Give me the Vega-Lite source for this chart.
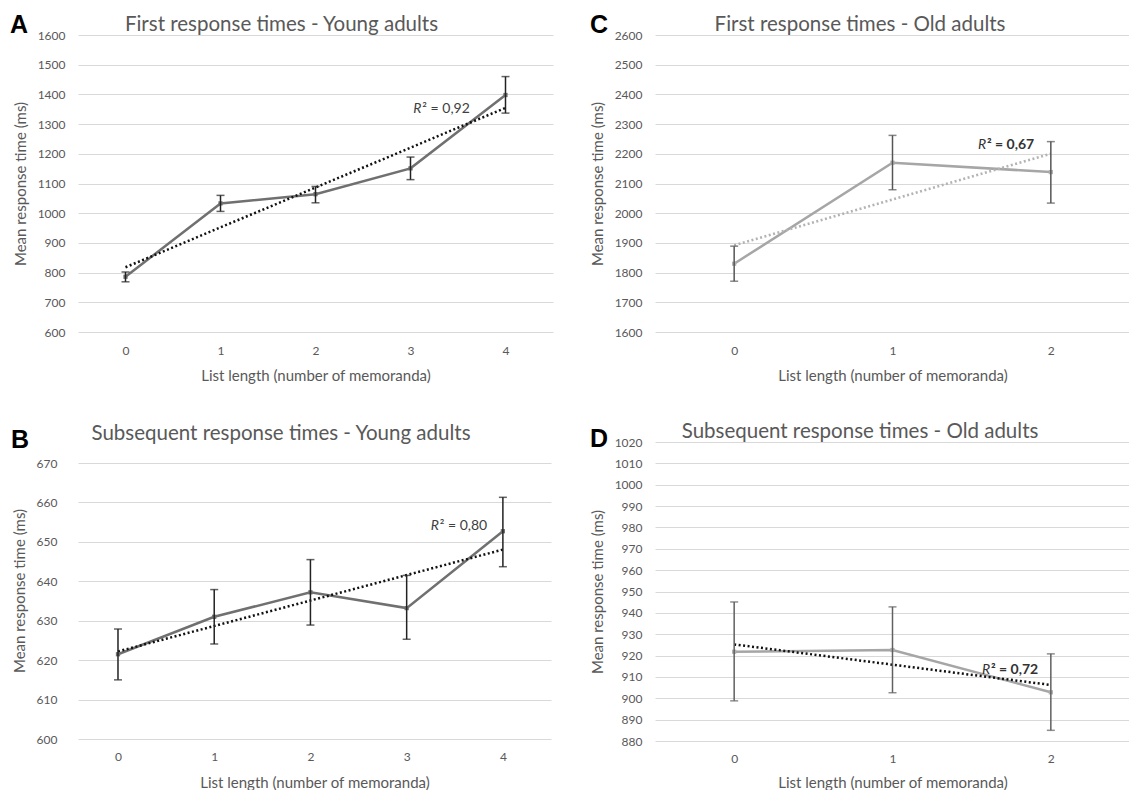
{
  "$schema": "https://vega.github.io/schema/vega-lite/v6.json",
  "background": "white",
  "padding": {"left": 9, "top": 13, "right": 0, "bottom": 0},
  "config": {
    "font": "Lato",
    "view": {"stroke": null},
    "axis": {
      "labelColor": "#595959",
      "titleColor": "#595959",
      "labelFontSize": 12,
      "titleFontSize": 15,
      "titleFontWeight": "normal",
      "domain": false,
      "ticks": false,
      "gridColor": "#d9d9d9",
      "gridWidth": 1.2
    },
    "title": {"fontSize": 20.5, "fontWeight": "normal", "color": "#595959", "anchor": "middle", "frame": "bounds"}
  },
  "datasets": {
    "A": [
      {"n": 0, "rt": 786, "lo": 769, "hi": 802},
      {"n": 1, "rt": 1033, "lo": 1006, "hi": 1060},
      {"n": 2, "rt": 1064, "lo": 1035, "hi": 1090},
      {"n": 3, "rt": 1151, "lo": 1113, "hi": 1189},
      {"n": 4, "rt": 1398, "lo": 1337, "hi": 1460}
    ],
    "B": [
      {"n": 0, "rt": 621.5, "lo": 615.0, "hi": 627.9},
      {"n": 1, "rt": 631.0, "lo": 624.1, "hi": 637.9},
      {"n": 2, "rt": 637.2, "lo": 628.9, "hi": 645.5},
      {"n": 3, "rt": 633.2, "lo": 625.3, "hi": 641.5},
      {"n": 4, "rt": 652.7, "lo": 643.7, "hi": 661.3}
    ],
    "C": [
      {"n": 0, "rt": 1830, "lo": 1771, "hi": 1889},
      {"n": 1, "rt": 2170, "lo": 2079, "hi": 2262},
      {"n": 2, "rt": 2138.5, "lo": 2034, "hi": 2241}
    ],
    "D": [
      {"n": 0, "rt": 921.8, "lo": 898.8, "hi": 945.1},
      {"n": 1, "rt": 922.6, "lo": 902.6, "hi": 942.8},
      {"n": 2, "rt": 902.8, "lo": 885.0, "hi": 920.8}
    ]
  },
  "vconcat": [
    {
      "hconcat": [
        {
          "width": 475,
          "height": 297,
          "title": {"text": "First response times - Young adults", "offset": -22},
          "data": {"name": "A"},
          "layer": [
            {"mark": {"type": "line", "color": "#707070", "strokeWidth": 2.5},
              "encoding": {
                "x": {"field": "n", "type": "quantitative", "scale": {"domain": [-0.5, 4.5], "nice": false, "zero": false}, "axis": {"values": [0, 1, 2, 3, 4], "format": "d", "grid": false, "title": "List length (number of memoranda)", "labelPadding": 13, "titlePadding": 12}},
                "y": {"field": "rt", "type": "quantitative", "scale": {"domain": [600, 1600], "nice": false, "zero": false}, "axis": {"values": [600, 700, 800, 900, 1000, 1100, 1200, 1300, 1400, 1500, 1600], "format": "d", "title": "Mean response time (ms)", "labelPadding": 13, "titlePadding": 9}}}},
            {"transform": [{"regression": "rt", "on": "n"}],
              "mark": {"type": "line", "color": "#111", "strokeWidth": 2.5, "strokeDash": [2, 2.5]},
              "encoding": {
                "x": {"field": "n", "type": "quantitative", "scale": {"domain": [-0.5, 4.5], "nice": false, "zero": false}, "axis": {"values": [0, 1, 2, 3, 4], "format": "d", "grid": false, "title": "List length (number of memoranda)", "labelPadding": 13, "titlePadding": 12}},
                "y": {"field": "rt", "type": "quantitative", "scale": {"domain": [600, 1600], "nice": false, "zero": false}, "axis": {"values": [600, 700, 800, 900, 1000, 1100, 1200, 1300, 1400, 1500, 1600], "format": "d", "title": "Mean response time (ms)", "labelPadding": 13, "titlePadding": 9}}}},
            {"mark": {"type": "square", "size": 18, "color": "#707070", "opacity": 1},
              "encoding": {
                "x": {"field": "n", "type": "quantitative", "scale": {"domain": [-0.5, 4.5], "nice": false, "zero": false}, "axis": {"values": [0, 1, 2, 3, 4], "format": "d", "grid": false, "title": "List length (number of memoranda)", "labelPadding": 13, "titlePadding": 12}},
                "y": {"field": "rt", "type": "quantitative", "scale": {"domain": [600, 1600], "nice": false, "zero": false}, "axis": {"values": [600, 700, 800, 900, 1000, 1100, 1200, 1300, 1400, 1500, 1600], "format": "d", "title": "Mean response time (ms)", "labelPadding": 13, "titlePadding": 9}}}},
            {"mark": {"type": "rule", "color": "#222", "strokeWidth": 1.5},
              "encoding": {
                "x": {"field": "n", "type": "quantitative", "scale": {"domain": [-0.5, 4.5], "nice": false, "zero": false}, "axis": {"values": [0, 1, 2, 3, 4], "format": "d", "grid": false, "title": "List length (number of memoranda)", "labelPadding": 13, "titlePadding": 12}},
                "y": {"field": "lo", "type": "quantitative", "scale": {"domain": [600, 1600], "nice": false, "zero": false}, "axis": {"values": [600, 700, 800, 900, 1000, 1100, 1200, 1300, 1400, 1500, 1600], "format": "d", "title": "Mean response time (ms)", "labelPadding": 13, "titlePadding": 9}},
                "y2": {"field": "hi"}}},
            {"mark": {"type": "tick", "orient": "horizontal", "size": 8, "thickness": 1.5, "color": "#222"},
              "encoding": {
                "x": {"field": "n", "type": "quantitative", "scale": {"domain": [-0.5, 4.5], "nice": false, "zero": false}, "axis": {"values": [0, 1, 2, 3, 4], "format": "d", "grid": false, "title": "List length (number of memoranda)", "labelPadding": 13, "titlePadding": 12}},
                "y": {"field": "lo", "type": "quantitative", "scale": {"domain": [600, 1600], "nice": false, "zero": false}, "axis": {"values": [600, 700, 800, 900, 1000, 1100, 1200, 1300, 1400, 1500, 1600], "format": "d", "title": "Mean response time (ms)", "labelPadding": 13, "titlePadding": 9}}}},
            {"mark": {"type": "tick", "orient": "horizontal", "size": 8, "thickness": 1.5, "color": "#222"},
              "encoding": {
                "x": {"field": "n", "type": "quantitative", "scale": {"domain": [-0.5, 4.5], "nice": false, "zero": false}, "axis": {"values": [0, 1, 2, 3, 4], "format": "d", "grid": false, "title": "List length (number of memoranda)", "labelPadding": 13, "titlePadding": 12}},
                "y": {"field": "hi", "type": "quantitative", "scale": {"domain": [600, 1600], "nice": false, "zero": false}, "axis": {"values": [600, 700, 800, 900, 1000, 1100, 1200, 1300, 1400, 1500, 1600], "format": "d", "title": "Mean response time (ms)", "labelPadding": 13, "titlePadding": 9}}}},
            {"data": {"values": [{"t": "R"}]},
              "mark": {"type": "text", "fontStyle": "italic", "fontSize": 14, "align": "left", "baseline": "alphabetic", "color": "#404040"},
              "encoding": {
                "x": {"datum": 3.03, "type": "quantitative", "scale": {"domain": [-0.5, 4.5], "nice": false, "zero": false}, "axis": {"values": [0, 1, 2, 3, 4], "format": "d", "grid": false, "title": "List length (number of memoranda)", "labelPadding": 13, "titlePadding": 12}},
                "y": {"datum": 1337, "type": "quantitative", "scale": {"domain": [600, 1600], "nice": false, "zero": false}, "axis": {"values": [600, 700, 800, 900, 1000, 1100, 1200, 1300, 1400, 1500, 1600], "format": "d", "title": "Mean response time (ms)", "labelPadding": 13, "titlePadding": 9}},
                "text": {"field": "t"}}},
            {"data": {"values": [{"t": "² = 0,92"}]},
              "mark": {"type": "text", "fontSize": 14, "align": "left", "baseline": "alphabetic", "dx": 9, "color": "#404040"},
              "encoding": {
                "x": {"datum": 3.03, "type": "quantitative", "scale": {"domain": [-0.5, 4.5], "nice": false, "zero": false}, "axis": {"values": [0, 1, 2, 3, 4], "format": "d", "grid": false, "title": "List length (number of memoranda)", "labelPadding": 13, "titlePadding": 12}},
                "y": {"datum": 1337, "type": "quantitative", "scale": {"domain": [600, 1600], "nice": false, "zero": false}, "axis": {"values": [600, 700, 800, 900, 1000, 1100, 1200, 1300, 1400, 1500, 1600], "format": "d", "title": "Mean response time (ms)", "labelPadding": 13, "titlePadding": 9}},
                "text": {"field": "t"}}},
            {"data": {"values": [{"t": "A"}]},
              "mark": {"type": "text", "font": "Liberation Sans", "fontWeight": "bold", "fontSize": 25, "align": "left", "baseline": "alphabetic", "color": "#000"},
              "encoding": {
                "x": {"datum": -1.216, "type": "quantitative", "scale": {"domain": [-0.5, 4.5], "nice": false, "zero": false}, "axis": {"values": [0, 1, 2, 3, 4], "format": "d", "grid": false, "title": "List length (number of memoranda)", "labelPadding": 13, "titlePadding": 12}},
                "y": {"datum": 1606.7, "type": "quantitative", "scale": {"domain": [600, 1600], "nice": false, "zero": false}, "axis": {"values": [600, 700, 800, 900, 1000, 1100, 1200, 1300, 1400, 1500, 1600], "format": "d", "title": "Mean response time (ms)", "labelPadding": 13, "titlePadding": 9}},
                "text": {"field": "t"}}}
          ]
        },
        {
          "width": 475,
          "height": 297,
          "title": {"text": "First response times - Old adults", "offset": -22},
          "data": {"name": "C"},
          "layer": [
            {"mark": {"type": "line", "color": "#a6a6a6", "strokeWidth": 2.5},
              "encoding": {
                "x": {"field": "n", "type": "quantitative", "scale": {"domain": [-0.5, 2.5], "nice": false, "zero": false}, "axis": {"values": [0, 1, 2], "format": "d", "grid": false, "title": "List length (number of memoranda)", "labelPadding": 13, "titlePadding": 12}},
                "y": {"field": "rt", "type": "quantitative", "scale": {"domain": [1600, 2600], "nice": false, "zero": false}, "axis": {"values": [1600, 1700, 1800, 1900, 2000, 2100, 2200, 2300, 2400, 2500, 2600], "format": "d", "title": "Mean response time (ms)", "labelPadding": 13, "titlePadding": 9}}}},
            {"transform": [{"regression": "rt", "on": "n"}],
              "mark": {"type": "line", "color": "#b3b3b3", "strokeWidth": 2.5, "strokeDash": [2, 2.5]},
              "encoding": {
                "x": {"field": "n", "type": "quantitative", "scale": {"domain": [-0.5, 2.5], "nice": false, "zero": false}, "axis": {"values": [0, 1, 2], "format": "d", "grid": false, "title": "List length (number of memoranda)", "labelPadding": 13, "titlePadding": 12}},
                "y": {"field": "rt", "type": "quantitative", "scale": {"domain": [1600, 2600], "nice": false, "zero": false}, "axis": {"values": [1600, 1700, 1800, 1900, 2000, 2100, 2200, 2300, 2400, 2500, 2600], "format": "d", "title": "Mean response time (ms)", "labelPadding": 13, "titlePadding": 9}}}},
            {"mark": {"type": "square", "size": 18, "color": "#b0b0b0", "opacity": 1},
              "encoding": {
                "x": {"field": "n", "type": "quantitative", "scale": {"domain": [-0.5, 2.5], "nice": false, "zero": false}, "axis": {"values": [0, 1, 2], "format": "d", "grid": false, "title": "List length (number of memoranda)", "labelPadding": 13, "titlePadding": 12}},
                "y": {"field": "rt", "type": "quantitative", "scale": {"domain": [1600, 2600], "nice": false, "zero": false}, "axis": {"values": [1600, 1700, 1800, 1900, 2000, 2100, 2200, 2300, 2400, 2500, 2600], "format": "d", "title": "Mean response time (ms)", "labelPadding": 13, "titlePadding": 9}}}},
            {"mark": {"type": "rule", "color": "#555", "strokeWidth": 1.5},
              "encoding": {
                "x": {"field": "n", "type": "quantitative", "scale": {"domain": [-0.5, 2.5], "nice": false, "zero": false}, "axis": {"values": [0, 1, 2], "format": "d", "grid": false, "title": "List length (number of memoranda)", "labelPadding": 13, "titlePadding": 12}},
                "y": {"field": "lo", "type": "quantitative", "scale": {"domain": [1600, 2600], "nice": false, "zero": false}, "axis": {"values": [1600, 1700, 1800, 1900, 2000, 2100, 2200, 2300, 2400, 2500, 2600], "format": "d", "title": "Mean response time (ms)", "labelPadding": 13, "titlePadding": 9}},
                "y2": {"field": "hi"}}},
            {"mark": {"type": "tick", "orient": "horizontal", "size": 8, "thickness": 1.5, "color": "#555"},
              "encoding": {
                "x": {"field": "n", "type": "quantitative", "scale": {"domain": [-0.5, 2.5], "nice": false, "zero": false}, "axis": {"values": [0, 1, 2], "format": "d", "grid": false, "title": "List length (number of memoranda)", "labelPadding": 13, "titlePadding": 12}},
                "y": {"field": "lo", "type": "quantitative", "scale": {"domain": [1600, 2600], "nice": false, "zero": false}, "axis": {"values": [1600, 1700, 1800, 1900, 2000, 2100, 2200, 2300, 2400, 2500, 2600], "format": "d", "title": "Mean response time (ms)", "labelPadding": 13, "titlePadding": 9}}}},
            {"mark": {"type": "tick", "orient": "horizontal", "size": 8, "thickness": 1.5, "color": "#555"},
              "encoding": {
                "x": {"field": "n", "type": "quantitative", "scale": {"domain": [-0.5, 2.5], "nice": false, "zero": false}, "axis": {"values": [0, 1, 2], "format": "d", "grid": false, "title": "List length (number of memoranda)", "labelPadding": 13, "titlePadding": 12}},
                "y": {"field": "hi", "type": "quantitative", "scale": {"domain": [1600, 2600], "nice": false, "zero": false}, "axis": {"values": [1600, 1700, 1800, 1900, 2000, 2100, 2200, 2300, 2400, 2500, 2600], "format": "d", "title": "Mean response time (ms)", "labelPadding": 13, "titlePadding": 9}}}},
            {"data": {"values": [{"t": "R"}]},
              "mark": {"type": "text", "fontStyle": "italic", "fontSize": 14, "align": "left", "baseline": "alphabetic", "color": "#333"},
              "encoding": {
                "x": {"datum": 1.54, "type": "quantitative", "scale": {"domain": [-0.5, 2.5], "nice": false, "zero": false}, "axis": {"values": [0, 1, 2], "format": "d", "grid": false, "title": "List length (number of memoranda)", "labelPadding": 13, "titlePadding": 12}},
                "y": {"datum": 2215, "type": "quantitative", "scale": {"domain": [1600, 2600], "nice": false, "zero": false}, "axis": {"values": [1600, 1700, 1800, 1900, 2000, 2100, 2200, 2300, 2400, 2500, 2600], "format": "d", "title": "Mean response time (ms)", "labelPadding": 13, "titlePadding": 9}},
                "text": {"field": "t"}}},
            {"data": {"values": [{"t": "² = 0,67"}]},
              "mark": {"type": "text", "fontSize": 14, "fontWeight": "bold", "align": "left", "baseline": "alphabetic", "dx": 9, "color": "#333"},
              "encoding": {
                "x": {"datum": 1.54, "type": "quantitative", "scale": {"domain": [-0.5, 2.5], "nice": false, "zero": false}, "axis": {"values": [0, 1, 2], "format": "d", "grid": false, "title": "List length (number of memoranda)", "labelPadding": 13, "titlePadding": 12}},
                "y": {"datum": 2215, "type": "quantitative", "scale": {"domain": [1600, 2600], "nice": false, "zero": false}, "axis": {"values": [1600, 1700, 1800, 1900, 2000, 2100, 2200, 2300, 2400, 2500, 2600], "format": "d", "title": "Mean response time (ms)", "labelPadding": 13, "titlePadding": 9}},
                "text": {"field": "t"}}},
            {"data": {"values": [{"t": "C"}]},
              "mark": {"type": "text", "font": "Liberation Sans", "fontWeight": "bold", "fontSize": 25, "align": "left", "baseline": "alphabetic", "color": "#000"},
              "encoding": {
                "x": {"datum": -0.91, "type": "quantitative", "scale": {"domain": [-0.5, 2.5], "nice": false, "zero": false}, "axis": {"values": [0, 1, 2], "format": "d", "grid": false, "title": "List length (number of memoranda)", "labelPadding": 13, "titlePadding": 12}},
                "y": {"datum": 2606.7, "type": "quantitative", "scale": {"domain": [1600, 2600], "nice": false, "zero": false}, "axis": {"values": [1600, 1700, 1800, 1900, 2000, 2100, 2200, 2300, 2400, 2500, 2600], "format": "d", "title": "Mean response time (ms)", "labelPadding": 13, "titlePadding": 9}},
                "text": {"field": "t"}}}
          ]
        }
      ],
      "spacing": 102,
      "bounds": "flush"
    },
    {
      "hconcat": [
        {
          "width": 473,
          "height": 297,
          "title": {"text": "Subsequent response times - Young adults", "offset": -16},
          "data": {"name": "B"},
          "layer": [
            {"mark": {"type": "line", "color": "#707070", "strokeWidth": 2.5},
              "encoding": {
                "x": {"field": "n", "type": "quantitative", "scale": {"domain": [-0.4156, 4.5], "nice": false, "zero": false}, "axis": {"values": [0, 1, 2, 3, 4], "format": "d", "grid": false, "title": "List length (number of memoranda)", "labelPadding": 12, "titlePadding": 13}},
                "y": {"field": "rt", "type": "quantitative", "scale": {"domain": [600, 675.33], "nice": false, "zero": false}, "axis": {"values": [600, 610, 620, 630, 640, 650, 660, 670], "format": "d", "title": "Mean response time (ms)", "labelPadding": 21, "titlePadding": 9}}}},
            {"transform": [{"regression": "rt", "on": "n"}],
              "mark": {"type": "line", "color": "#111", "strokeWidth": 2.5, "strokeDash": [2, 2.5]},
              "encoding": {
                "x": {"field": "n", "type": "quantitative", "scale": {"domain": [-0.4156, 4.5], "nice": false, "zero": false}, "axis": {"values": [0, 1, 2, 3, 4], "format": "d", "grid": false, "title": "List length (number of memoranda)", "labelPadding": 12, "titlePadding": 13}},
                "y": {"field": "rt", "type": "quantitative", "scale": {"domain": [600, 675.33], "nice": false, "zero": false}, "axis": {"values": [600, 610, 620, 630, 640, 650, 660, 670], "format": "d", "title": "Mean response time (ms)", "labelPadding": 21, "titlePadding": 9}}}},
            {"mark": {"type": "square", "size": 18, "color": "#707070", "opacity": 1},
              "encoding": {
                "x": {"field": "n", "type": "quantitative", "scale": {"domain": [-0.4156, 4.5], "nice": false, "zero": false}, "axis": {"values": [0, 1, 2, 3, 4], "format": "d", "grid": false, "title": "List length (number of memoranda)", "labelPadding": 12, "titlePadding": 13}},
                "y": {"field": "rt", "type": "quantitative", "scale": {"domain": [600, 675.33], "nice": false, "zero": false}, "axis": {"values": [600, 610, 620, 630, 640, 650, 660, 670], "format": "d", "title": "Mean response time (ms)", "labelPadding": 21, "titlePadding": 9}}}},
            {"mark": {"type": "rule", "color": "#222", "strokeWidth": 1.5},
              "encoding": {
                "x": {"field": "n", "type": "quantitative", "scale": {"domain": [-0.4156, 4.5], "nice": false, "zero": false}, "axis": {"values": [0, 1, 2, 3, 4], "format": "d", "grid": false, "title": "List length (number of memoranda)", "labelPadding": 12, "titlePadding": 13}},
                "y": {"field": "lo", "type": "quantitative", "scale": {"domain": [600, 675.33], "nice": false, "zero": false}, "axis": {"values": [600, 610, 620, 630, 640, 650, 660, 670], "format": "d", "title": "Mean response time (ms)", "labelPadding": 21, "titlePadding": 9}},
                "y2": {"field": "hi"}}},
            {"mark": {"type": "tick", "orient": "horizontal", "size": 8, "thickness": 1.5, "color": "#222"},
              "encoding": {
                "x": {"field": "n", "type": "quantitative", "scale": {"domain": [-0.4156, 4.5], "nice": false, "zero": false}, "axis": {"values": [0, 1, 2, 3, 4], "format": "d", "grid": false, "title": "List length (number of memoranda)", "labelPadding": 12, "titlePadding": 13}},
                "y": {"field": "lo", "type": "quantitative", "scale": {"domain": [600, 675.33], "nice": false, "zero": false}, "axis": {"values": [600, 610, 620, 630, 640, 650, 660, 670], "format": "d", "title": "Mean response time (ms)", "labelPadding": 21, "titlePadding": 9}}}},
            {"mark": {"type": "tick", "orient": "horizontal", "size": 8, "thickness": 1.5, "color": "#222"},
              "encoding": {
                "x": {"field": "n", "type": "quantitative", "scale": {"domain": [-0.4156, 4.5], "nice": false, "zero": false}, "axis": {"values": [0, 1, 2, 3, 4], "format": "d", "grid": false, "title": "List length (number of memoranda)", "labelPadding": 12, "titlePadding": 13}},
                "y": {"field": "hi", "type": "quantitative", "scale": {"domain": [600, 675.33], "nice": false, "zero": false}, "axis": {"values": [600, 610, 620, 630, 640, 650, 660, 670], "format": "d", "title": "Mean response time (ms)", "labelPadding": 21, "titlePadding": 9}}}},
            {"data": {"values": [{"t": "R"}]},
              "mark": {"type": "text", "fontStyle": "italic", "fontSize": 14, "align": "left", "baseline": "alphabetic", "color": "#404040"},
              "encoding": {
                "x": {"datum": 3.25, "type": "quantitative", "scale": {"domain": [-0.4156, 4.5], "nice": false, "zero": false}, "axis": {"values": [0, 1, 2, 3, 4], "format": "d", "grid": false, "title": "List length (number of memoranda)", "labelPadding": 12, "titlePadding": 13}},
                "y": {"datum": 653, "type": "quantitative", "scale": {"domain": [600, 675.33], "nice": false, "zero": false}, "axis": {"values": [600, 610, 620, 630, 640, 650, 660, 670], "format": "d", "title": "Mean response time (ms)", "labelPadding": 21, "titlePadding": 9}},
                "text": {"field": "t"}}},
            {"data": {"values": [{"t": "² = 0,80"}]},
              "mark": {"type": "text", "fontSize": 14, "align": "left", "baseline": "alphabetic", "dx": 9, "color": "#404040"},
              "encoding": {
                "x": {"datum": 3.25, "type": "quantitative", "scale": {"domain": [-0.4156, 4.5], "nice": false, "zero": false}, "axis": {"values": [0, 1, 2, 3, 4], "format": "d", "grid": false, "title": "List length (number of memoranda)", "labelPadding": 12, "titlePadding": 13}},
                "y": {"datum": 653, "type": "quantitative", "scale": {"domain": [600, 675.33], "nice": false, "zero": false}, "axis": {"values": [600, 610, 620, 630, 640, 650, 660, 670], "format": "d", "title": "Mean response time (ms)", "labelPadding": 21, "titlePadding": 9}},
                "text": {"field": "t"}}},
            {"data": {"values": [{"t": "B"}]},
              "mark": {"type": "text", "font": "Liberation Sans", "fontWeight": "bold", "fontSize": 25, "align": "left", "baseline": "alphabetic", "color": "#000"},
              "encoding": {
                "x": {"datum": -1.112, "type": "quantitative", "scale": {"domain": [-0.4156, 4.5], "nice": false, "zero": false}, "axis": {"values": [0, 1, 2, 3, 4], "format": "d", "grid": false, "title": "List length (number of memoranda)", "labelPadding": 12, "titlePadding": 13}},
                "y": {"datum": 673.8, "type": "quantitative", "scale": {"domain": [600, 675.33], "nice": false, "zero": false}, "axis": {"values": [600, 610, 620, 630, 640, 650, 660, 670], "format": "d", "title": "Mean response time (ms)", "labelPadding": 21, "titlePadding": 9}},
                "text": {"field": "t"}}}
          ]
        },
        {
          "width": 475,
          "height": 299,
          "title": {"text": "Subsequent response times - Old adults", "offset": -16},
          "data": {"name": "D"},
          "layer": [
            {"mark": {"type": "line", "color": "#a6a6a6", "strokeWidth": 2.5},
              "encoding": {
                "x": {"field": "n", "type": "quantitative", "scale": {"domain": [-0.5, 2.5], "nice": false, "zero": false}, "axis": {"values": [0, 1, 2], "format": "d", "grid": false, "title": "List length (number of memoranda)", "labelPadding": 12, "titlePadding": 11}},
                "y": {"field": "rt", "type": "quantitative", "scale": {"domain": [880, 1020], "nice": false, "zero": false}, "axis": {"values": [880, 890, 900, 910, 920, 930, 940, 950, 960, 970, 980, 990, 1000, 1010, 1020], "format": "d", "title": "Mean response time (ms)", "labelPadding": 13, "titlePadding": 9}}}},
            {"transform": [{"regression": "rt", "on": "n"}],
              "mark": {"type": "line", "color": "#111", "strokeWidth": 2.5, "strokeDash": [2, 2.5]},
              "encoding": {
                "x": {"field": "n", "type": "quantitative", "scale": {"domain": [-0.5, 2.5], "nice": false, "zero": false}, "axis": {"values": [0, 1, 2], "format": "d", "grid": false, "title": "List length (number of memoranda)", "labelPadding": 12, "titlePadding": 11}},
                "y": {"field": "rt", "type": "quantitative", "scale": {"domain": [880, 1020], "nice": false, "zero": false}, "axis": {"values": [880, 890, 900, 910, 920, 930, 940, 950, 960, 970, 980, 990, 1000, 1010, 1020], "format": "d", "title": "Mean response time (ms)", "labelPadding": 13, "titlePadding": 9}}}},
            {"mark": {"type": "square", "size": 18, "color": "#b0b0b0", "opacity": 1},
              "encoding": {
                "x": {"field": "n", "type": "quantitative", "scale": {"domain": [-0.5, 2.5], "nice": false, "zero": false}, "axis": {"values": [0, 1, 2], "format": "d", "grid": false, "title": "List length (number of memoranda)", "labelPadding": 12, "titlePadding": 11}},
                "y": {"field": "rt", "type": "quantitative", "scale": {"domain": [880, 1020], "nice": false, "zero": false}, "axis": {"values": [880, 890, 900, 910, 920, 930, 940, 950, 960, 970, 980, 990, 1000, 1010, 1020], "format": "d", "title": "Mean response time (ms)", "labelPadding": 13, "titlePadding": 9}}}},
            {"mark": {"type": "rule", "color": "#606060", "strokeWidth": 1.5},
              "encoding": {
                "x": {"field": "n", "type": "quantitative", "scale": {"domain": [-0.5, 2.5], "nice": false, "zero": false}, "axis": {"values": [0, 1, 2], "format": "d", "grid": false, "title": "List length (number of memoranda)", "labelPadding": 12, "titlePadding": 11}},
                "y": {"field": "lo", "type": "quantitative", "scale": {"domain": [880, 1020], "nice": false, "zero": false}, "axis": {"values": [880, 890, 900, 910, 920, 930, 940, 950, 960, 970, 980, 990, 1000, 1010, 1020], "format": "d", "title": "Mean response time (ms)", "labelPadding": 13, "titlePadding": 9}},
                "y2": {"field": "hi"}}},
            {"mark": {"type": "tick", "orient": "horizontal", "size": 8, "thickness": 1.5, "color": "#606060"},
              "encoding": {
                "x": {"field": "n", "type": "quantitative", "scale": {"domain": [-0.5, 2.5], "nice": false, "zero": false}, "axis": {"values": [0, 1, 2], "format": "d", "grid": false, "title": "List length (number of memoranda)", "labelPadding": 12, "titlePadding": 11}},
                "y": {"field": "lo", "type": "quantitative", "scale": {"domain": [880, 1020], "nice": false, "zero": false}, "axis": {"values": [880, 890, 900, 910, 920, 930, 940, 950, 960, 970, 980, 990, 1000, 1010, 1020], "format": "d", "title": "Mean response time (ms)", "labelPadding": 13, "titlePadding": 9}}}},
            {"mark": {"type": "tick", "orient": "horizontal", "size": 8, "thickness": 1.5, "color": "#606060"},
              "encoding": {
                "x": {"field": "n", "type": "quantitative", "scale": {"domain": [-0.5, 2.5], "nice": false, "zero": false}, "axis": {"values": [0, 1, 2], "format": "d", "grid": false, "title": "List length (number of memoranda)", "labelPadding": 12, "titlePadding": 11}},
                "y": {"field": "hi", "type": "quantitative", "scale": {"domain": [880, 1020], "nice": false, "zero": false}, "axis": {"values": [880, 890, 900, 910, 920, 930, 940, 950, 960, 970, 980, 990, 1000, 1010, 1020], "format": "d", "title": "Mean response time (ms)", "labelPadding": 13, "titlePadding": 9}}}},
            {"data": {"values": [{"t": "R"}]},
              "mark": {"type": "text", "fontStyle": "italic", "fontSize": 14, "align": "left", "baseline": "alphabetic", "color": "#333"},
              "encoding": {
                "x": {"datum": 1.565, "type": "quantitative", "scale": {"domain": [-0.5, 2.5], "nice": false, "zero": false}, "axis": {"values": [0, 1, 2], "format": "d", "grid": false, "title": "List length (number of memoranda)", "labelPadding": 12, "titlePadding": 11}},
                "y": {"datum": 911.6, "type": "quantitative", "scale": {"domain": [880, 1020], "nice": false, "zero": false}, "axis": {"values": [880, 890, 900, 910, 920, 930, 940, 950, 960, 970, 980, 990, 1000, 1010, 1020], "format": "d", "title": "Mean response time (ms)", "labelPadding": 13, "titlePadding": 9}},
                "text": {"field": "t"}}},
            {"data": {"values": [{"t": "² = 0,72"}]},
              "mark": {"type": "text", "fontSize": 14, "fontWeight": "bold", "align": "left", "baseline": "alphabetic", "dx": 9, "color": "#333"},
              "encoding": {
                "x": {"datum": 1.565, "type": "quantitative", "scale": {"domain": [-0.5, 2.5], "nice": false, "zero": false}, "axis": {"values": [0, 1, 2], "format": "d", "grid": false, "title": "List length (number of memoranda)", "labelPadding": 12, "titlePadding": 11}},
                "y": {"datum": 911.6, "type": "quantitative", "scale": {"domain": [880, 1020], "nice": false, "zero": false}, "axis": {"values": [880, 890, 900, 910, 920, 930, 940, 950, 960, 970, 980, 990, 1000, 1010, 1020], "format": "d", "title": "Mean response time (ms)", "labelPadding": 13, "titlePadding": 9}},
                "text": {"field": "t"}}},
            {"data": {"values": [{"t": "D"}]},
              "mark": {"type": "text", "font": "Liberation Sans", "fontWeight": "bold", "fontSize": 25, "align": "left", "baseline": "alphabetic", "color": "#000"},
              "encoding": {
                "x": {"datum": -0.91, "type": "quantitative", "scale": {"domain": [-0.5, 2.5], "nice": false, "zero": false}, "axis": {"values": [0, 1, 2], "format": "d", "grid": false, "title": "List length (number of memoranda)", "labelPadding": 12, "titlePadding": 11}},
                "y": {"datum": 1017.7, "type": "quantitative", "scale": {"domain": [880, 1020], "nice": false, "zero": false}, "axis": {"values": [880, 890, 900, 910, 920, 930, 940, 950, 960, 970, 980, 990, 1000, 1010, 1020], "format": "d", "title": "Mean response time (ms)", "labelPadding": 13, "titlePadding": 9}},
                "text": {"field": "t"}}}
          ]
        }
      ],
      "spacing": 104,
      "bounds": "flush"
    }
  ],
  "spacing": 39,
  "align": "none"
}
